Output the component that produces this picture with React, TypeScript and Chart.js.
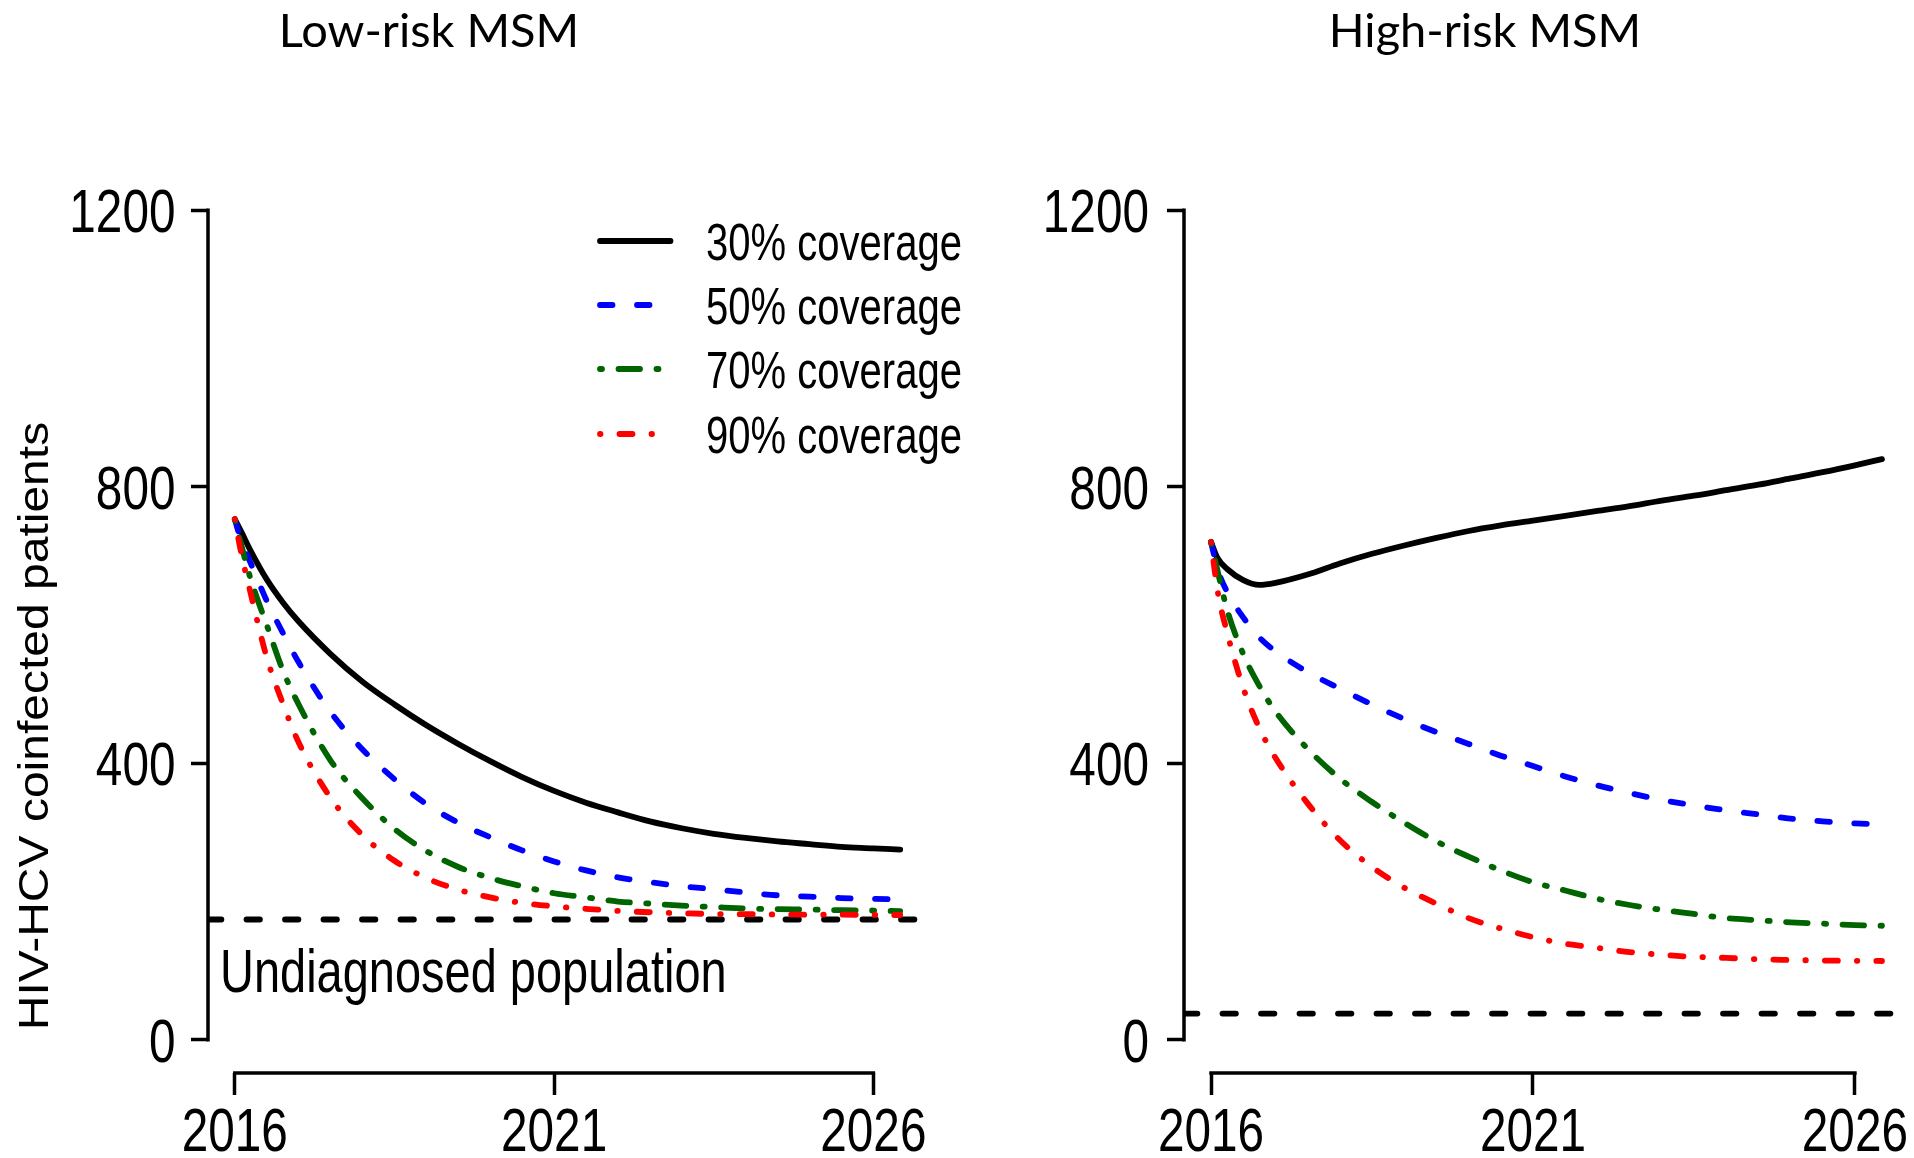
import React, { useEffect, useRef } from 'react';
import { Chart, registerables } from 'chart.js';

Chart.register(...registerables);

// Model output, sampled at these time points (years)
const years = [
  2016, 2016.1, 2016.25, 2016.5, 2016.75, 2017, 2017.5, 2018, 2018.5, 2019, 2019.5, 2020,
  2020.5, 2021, 2021.5, 2022, 2022.5, 2023, 2023.5, 2024, 2024.5, 2025, 2025.5, 2026, 2026.42,
];

const coverageLabels = ['30% coverage', '50% coverage', '70% coverage', '90% coverage'];

// Low-risk MSM: HIV-HCV coinfected patients by treatment coverage
const lowRisk30 = [753, 735, 707, 666, 633, 605, 558, 518, 485, 455, 428, 403, 380, 360, 343, 329, 316, 306, 298, 292, 287, 283, 279, 277, 275];
const lowRisk50 = [753, 722, 689, 635, 589, 546, 474, 420, 377, 341, 314, 293, 274, 258, 245, 235, 228, 222, 218, 213, 209, 207, 205, 204, 203];
const lowRisk70 = [753, 716, 666, 600, 535, 485, 404, 349, 305, 273, 250, 234, 222, 212, 206, 200, 197, 194, 192, 190, 189, 188.5, 187.5, 187, 186];
const lowRisk90 = [753, 704, 645, 553, 487, 430, 350, 296, 259, 234, 217, 206, 198, 193, 189.5, 186.5, 184.5, 183, 182, 181.7, 181.3, 181, 181, 180.7, 180.5];
const lowRiskUndiagnosed = 174;

// High-risk MSM
const highRisk30 = [720, 697, 681, 665, 658, 661, 673, 689, 703, 715, 726, 736, 744, 751, 758, 765, 772, 780, 787, 795, 803, 812, 821, 831, 840];
const highRisk50 = [720, 681, 648, 611, 582, 562, 532, 508, 485, 464, 445, 428, 411, 396, 381, 368, 357, 347, 339, 332, 326, 320, 316, 313, 312];
const highRisk70 = [720, 679, 622, 558, 512, 475, 421, 378, 344, 314, 287, 265, 245, 228, 216, 204, 195, 188, 182, 176, 173, 170, 168, 166, 165];
const highRisk90 = [720, 650, 589, 509, 451, 408, 342, 289, 250, 220, 197, 176, 161, 148.5, 139, 133, 127, 123, 120, 118.5, 116.5, 115.5, 114.7, 114.3, 114];
const highRiskUndiagnosed = 38;

const xTicks = [2016, 2021, 2026];
const yTicks = [0, 400, 800, 1200];
const xRange = [2015.58, 2026.84];
const yRange = [-48, 1248];

const yAxisTitle = 'HIV-HCV coinfected patients';
const undiagnosedLabel = 'Undiagnosed population';

const LINE_W = 5.8;
const AXIS_W = 3.5;
const SQUISH = 0.77;
const PANEL_W = 957;
const CANVAS_H = 1158;
const PLOT_TOP = 177;
const PLOT_BOTTOM = 1073;
const TICK_FONT = 62;

const seriesStyles = [
  { color: '#000000', dash: [] as number[] },
  { color: '#0000ff', dash: [12.5, 24.5] },
  { color: '#006400', dash: [2, 16.5, 21.5, 16.5] },
  { color: '#ff0000', dash: [0.5, 19, 13, 19] },
];
const refDash = [13.4, 25.1];

type PanelSpec = {
  title: string;
  titleX: number;
  series: number[][];
  undiagnosed: number;
  canvasW: number;
  yAxisWidth: number;
  padRight: number;
  tickPad: number;
  decorated: boolean;
};

const panels: PanelSpec[] = [
  {
    title: 'Low-risk MSM',
    titleX: 429,
    series: [lowRisk30, lowRisk50, lowRisk70, lowRisk90],
    undiagnosed: lowRiskUndiagnosed,
    canvasW: 1000,
    yAxisWidth: 208,
    padRight: 73,
    tickPad: 15.5,
    decorated: true,
  },
  {
    title: 'High-risk MSM',
    titleX: 528,
    series: [highRisk30, highRisk50, highRisk70, highRisk90],
    undiagnosed: highRiskUndiagnosed,
    canvasW: PANEL_W,
    yAxisWidth: 227,
    padRight: 5,
    tickPad: 18,
    decorated: false,
  },
];

const SANS = '"Liberation Sans", Arial, Helvetica, sans-serif';

// Horizontally condensed text, as produced by the original graphics device
function condensedText(
  ctx: CanvasRenderingContext2D,
  text: string,
  x: number,
  y: number,
  size: number,
  align: CanvasTextAlign = 'left',
) {
  ctx.save();
  ctx.translate(x, y);
  ctx.scale(SQUISH, 1);
  ctx.font = `${size}px ${SANS}`;
  ctx.textAlign = align;
  ctx.textBaseline = 'alphabetic';
  ctx.fillText(text, 0, 0);
  ctx.restore();
}

function makeDecor(panel: PanelSpec) {
  return {
    id: 'panelDecor',
    afterDraw(chart: any) {
      const ctx: CanvasRenderingContext2D = chart.ctx;
      const area = chart.chartArea;
      const xs = chart.scales.x;
      const ys = chart.scales.y;
      ctx.save();
      ctx.fillStyle = '#000';
      ctx.strokeStyle = '#000';

      // axis lines span the outermost ticks only
      ctx.lineWidth = AXIS_W;
      ctx.lineCap = 'butt';
      ctx.setLineDash([]);
      ctx.beginPath();
      ctx.moveTo(xs.getPixelForValue(xTicks[0]) - AXIS_W / 2, area.bottom);
      ctx.lineTo(xs.getPixelForValue(xTicks[xTicks.length - 1]) + AXIS_W / 2, area.bottom);
      ctx.moveTo(area.left, ys.getPixelForValue(yTicks[0]) + AXIS_W / 2);
      ctx.lineTo(area.left, ys.getPixelForValue(yTicks[yTicks.length - 1]) - AXIS_W / 2);
      ctx.stroke();

      // tick labels, placed from the scales' own ticks
      const capHalf = (0.716 * TICK_FONT) / 2;
      ys.ticks.forEach((t: any) => {
        const py = ys.getPixelForValue(t.value);
        condensedText(ctx, String(t.value), area.left - 17 - panel.tickPad, py + capHalf, TICK_FONT, 'right');
      });
      xs.ticks.forEach((t: any) => {
        const px = xs.getPixelForValue(t.value);
        condensedText(ctx, String(t.value), px, 1151, TICK_FONT, 'center');
      });

      // panel title
      ctx.font = `47px Lato, "Open Sans", sans-serif`;
      ctx.textAlign = 'center';
      ctx.textBaseline = 'alphabetic';
      ctx.fillText(panel.title, panel.titleX, 47);

      if (panel.decorated) {
        // y-axis title, rotated
        ctx.save();
        ctx.translate(48, 726);
        ctx.rotate(-Math.PI / 2);
        ctx.scale(1, 0.9);
        ctx.font = `48px ${SANS}`;
        ctx.textAlign = 'center';
        ctx.fillText(yAxisTitle, 0, 0);
        ctx.restore();

        // label under the undiagnosed reference line
        condensedText(ctx, undiagnosedLabel, 220, 992, 61);

        // legend
        const rowY = [241, 305, 369, 434];
        coverageLabels.forEach((label, i) => {
          const st = seriesStyles[i];
          ctx.save();
          ctx.strokeStyle = st.color;
          ctx.lineWidth = LINE_W;
          ctx.lineCap = 'round';
          ctx.setLineDash(st.dash);
          ctx.beginPath();
          ctx.moveTo(600, rowY[i]);
          ctx.lineTo(670.5, rowY[i]);
          ctx.stroke();
          ctx.restore();
          condensedText(ctx, label, 706, rowY[i] + 18.6, 52);
        });
      }
      ctx.restore();
    },
  };
}

function buildConfig(panel: PanelSpec): any {
  const datasets: any[] = panel.series.map((vals, i) => ({
    label: coverageLabels[i],
    data: years.map((x, j) => ({ x, y: vals[j] })),
    borderColor: seriesStyles[i].color,
    borderDash: seriesStyles[i].dash,
    borderWidth: LINE_W,
    borderCapStyle: 'round',
    borderJoinStyle: 'round',
    cubicInterpolationMode: 'monotone',
    pointRadius: 0,
    fill: false,
    order: 3 - i,
  }));
  datasets.push({
    label: undiagnosedLabel,
    data: [
      { x: xRange[0], y: panel.undiagnosed },
      { x: xRange[1], y: panel.undiagnosed },
    ],
    borderColor: '#000000',
    borderDash: refDash,
    borderWidth: LINE_W,
    borderCapStyle: 'round',
    pointRadius: 0,
    fill: false,
    order: 5,
  });

  return {
    type: 'line',
    data: { datasets },
    options: {
      responsive: false,
      animation: false,
      devicePixelRatio: 1,
      layout: { padding: { top: PLOT_TOP, right: panel.padRight, bottom: 0, left: 0 } },
      plugins: { legend: { display: false }, tooltip: { enabled: false }, title: { display: false } },
      scales: {
        x: {
          type: 'linear',
          min: xRange[0],
          max: xRange[1],
          afterBuildTicks: (s: any) => {
            s.ticks = xTicks.map((v) => ({ value: v }));
          },
          afterFit: (s: any) => {
            s.height = CANVAS_H - PLOT_BOTTOM;
          },
          grid: { drawOnChartArea: false, drawTicks: true, tickLength: 22, tickWidth: AXIS_W, tickColor: '#000' },
          border: { display: false },
          ticks: { display: false, autoSkip: false },
        },
        y: {
          type: 'linear',
          min: yRange[0],
          max: yRange[1],
          afterBuildTicks: (s: any) => {
            s.ticks = yTicks.map((v) => ({ value: v }));
          },
          afterFit: (s: any) => {
            s.width = panel.yAxisWidth;
          },
          grid: { drawOnChartArea: false, drawTicks: true, tickLength: 17, tickWidth: AXIS_W, tickColor: '#000' },
          border: { display: false },
          ticks: { display: false, autoSkip: false },
        },
      },
    },
    plugins: [makeDecor(panel)],
  };
}

function Panel({ panel, left }: { panel: PanelSpec; left: number }) {
  const ref = useRef<HTMLCanvasElement>(null);
  useEffect(() => {
    const chart = new Chart(ref.current as HTMLCanvasElement, buildConfig(panel));
    return () => chart.destroy();
  }, [panel]);
  return (
    <canvas
      ref={ref}
      width={panel.canvasW}
      height={CANVAS_H}
      style={{ position: 'absolute', left, top: 0, width: panel.canvasW, height: CANVAS_H }}
    />
  );
}

export default function App() {
  return (
    <div
      style={{
        position: 'absolute',
        left: 0,
        top: 0,
        width: PANEL_W * 2,
        height: CANVAS_H,
        background: '#ffffff',
        overflow: 'hidden',
      }}
    >
      <Panel panel={panels[0]} left={0} />
      <Panel panel={panels[1]} left={PANEL_W} />
    </div>
  );
}
